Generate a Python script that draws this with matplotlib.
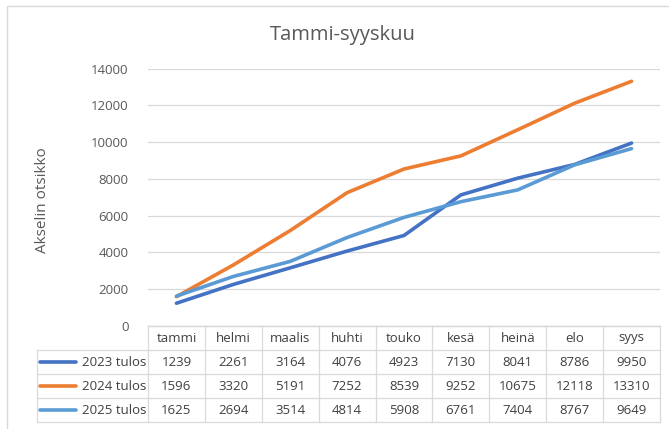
import matplotlib
matplotlib.use("Agg")
import matplotlib.pyplot as plt
from matplotlib.patches import Rectangle

months = ["tammi", "helmi", "maalis", "huhti", "touko", "kesä", "heinä", "elo", "syys"]
series_names = ["2023 tulos", "2024 tulos", "2025 tulos"]
v2023 = [1239, 2261, 3164, 4076, 4923, 7130, 8041, 8786, 9950]
v2024 = [1596, 3320, 5191, 7252, 8539, 9252, 10675, 12118, 13310]
v2025 = [1625, 2694, 3514, 4814, 5908, 6761, 7404, 8767, 9649]
colors = ["#4472C4", "#ED7D31", "#5B9BD5"]
yticks = [0, 2000, 4000, 6000, 8000, 10000, 12000, 14000]

plt.rcParams['font.family'] = ['Open Sans', 'DejaVu Sans']

W, H = 669, 429
fig = plt.figure(figsize=(W / 100, H / 100), dpi=100)

def fx(x):
    return x / W

def fy(y):
    return (H - y) / H

grid_c = "#D9D9D9"
text_c = "#595959"
tab_c = "#404040"
fs = 9.5

# outer frame (left and top edges visible)
fig.patches.append(Rectangle((fx(7), fy(440)), fx(700), (440 - 6) / H,
                             transform=fig.transFigure, fill=False, edgecolor="#D9D9D9", lw=1.0))

left, right = 148, 660
y0, ytop = 326, 68.6
ax = fig.add_axes([fx(left), fy(y0), (right - left) / W, (y0 - ytop) / H])
data = [v2023, v2024, v2025]
x = list(range(len(months)))
for vals, c in zip(data, colors):
    ax.plot(x, vals, color=c, lw=2.6, solid_capstyle="round", zorder=3)
ax.set_xlim(-0.5, len(months) - 0.5)
ax.set_ylim(0, 14000)
ax.set_yticks(yticks)
ax.set_yticklabels([str(t) for t in yticks], fontsize=fs, color=text_c)
ax.set_xticks([])
ax.tick_params(axis="y", length=0, pad=14)
ax.grid(axis="y", color=grid_c, lw=0.9)
for s in ["top", "right", "left"]:
    ax.spines[s].set_visible(False)
ax.spines["bottom"].set_color(grid_c)
ax.spines["bottom"].set_linewidth(0.9)
ax.patch.set_alpha(0)

fig.text(fx(343), fy(35), "Tammi-syyskuu", ha="center", va="center",
         fontsize=14.5, color=text_c)
fig.text(fx(42), fy(200), "Akselin otsikko", rotation=90, ha="center", va="center",
         fontsize=11, color=text_c)

# data table
tb = 422
tax = fig.add_axes([fx(left), fy(tb), (right - left) / W, (tb - y0) / H])
tax.set_xlim(-0.5, len(months) - 0.5)
tax.set_ylim(4, 0)
tax.axis("off")
colw = (right - left) / len(months)
lab_left = -0.5 - (left - 37) / colw
lw = 0.9
tax.plot([-0.5, len(months) - 0.5], [0, 0], color=grid_c, lw=lw, clip_on=False)
for r in range(1, 5):
    tax.plot([lab_left, len(months) - 0.5], [r, r], color=grid_c, lw=lw, clip_on=False)
for i in range(len(months) + 1):
    tax.plot([i - 0.5, i - 0.5], [0, 4], color=grid_c, lw=lw, clip_on=False)
tax.plot([lab_left, lab_left], [1, 4], color=grid_c, lw=lw, clip_on=False)

for i, m in enumerate(months):
    tax.text(i, 0.5, m, ha="center", va="center", fontsize=fs, color=tab_c)
for r, (name, vals, c) in enumerate(zip(series_names, data, colors), start=1):
    x1 = -0.5 - (left - 40) / colw
    x2 = -0.5 - (left - 76) / colw
    tax.plot([x1, x2], [r + 0.5, r + 0.5], color=c, lw=2.6, solid_capstyle="round", clip_on=False)
    tax.text(-0.5 - 2 / colw, r + 0.5, name, ha="right", va="center", fontsize=fs, color=tab_c)
    for i, v in enumerate(vals):
        tax.text(i, r + 0.5, str(v), ha="center", va="center", fontsize=fs, color=tab_c)

fig.savefig("out.png", dpi=100)
